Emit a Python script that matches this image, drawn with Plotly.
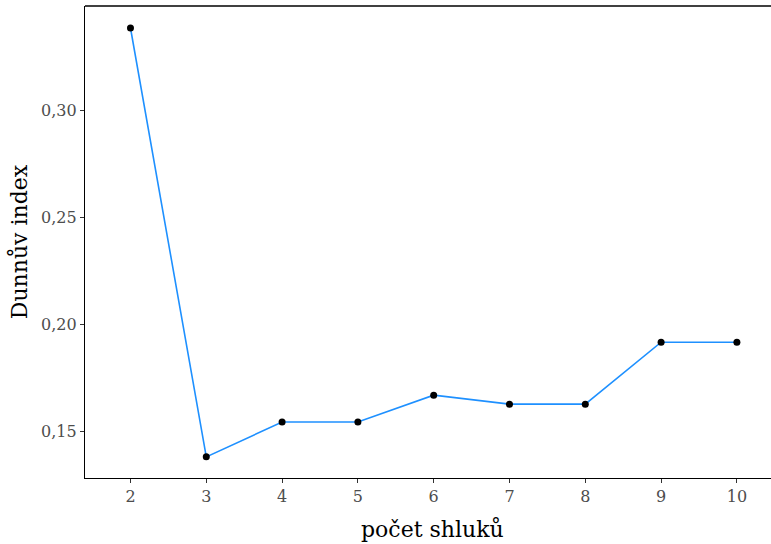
import plotly.graph_objects as go

# Dunn index for each number of clusters
pocet_shluku = [2, 3, 4, 5, 6, 7, 8, 9, 10]
dunn_index = [0.3388, 0.1379, 0.1542, 0.1542, 0.1668, 0.1626, 0.1626, 0.1916, 0.1916]

y_ticks = [0.15, 0.20, 0.25, 0.30]

fig = go.Figure()
fig.add_trace(go.Scatter(
    x=pocet_shluku, y=dunn_index, mode="lines",
    line=dict(color="#1E90FF", width=1.6), showlegend=False,
))
fig.add_trace(go.Scatter(
    x=pocet_shluku, y=dunn_index, mode="markers",
    marker=dict(color="black", size=7), showlegend=False,
))

font_family = "DejaVu Serif"
fig.update_layout(
    width=771, height=544,
    margin=dict(l=85, r=0, t=6, b=66),
    plot_bgcolor="white", paper_bgcolor="white",
    separators=", ",
    font=dict(family=font_family, color="black"),
    xaxis=dict(
        range=[1.4, 10.45], tickvals=pocet_shluku,
        showgrid=False, zeroline=False,
        showline=True, linecolor="black", linewidth=1.3,
        ticks="outside", ticklen=4, tickcolor="#333333", tickwidth=1.1,
        tickfont=dict(size=16, color="#4d4d4d", family=font_family),
    ),
    yaxis=dict(
        range=[0.1280, 0.3491], tickvals=y_ticks, tickformat=".2f",
        showgrid=False, zeroline=False,
        showline=True, linecolor="black", linewidth=1.3,
        ticks="outside", ticklen=4, tickcolor="#333333", tickwidth=1.1,
        tickfont=dict(size=16, color="#4d4d4d", family=font_family),
        title=dict(text="Dunnův index", font=dict(size=22, family=font_family), standoff=7),
    ),
    shapes=[dict(type="line", xref="paper", yref="paper", x0=0, x1=1, y0=1, y1=1,
                 line=dict(color="black", width=1.3))],
    annotations=[dict(
        text="počet shluků", xref="paper", yref="paper", x=0.507, y=0,
        xanchor="center", yanchor="middle", yshift=-51, showarrow=False,
        font=dict(size=22, family=font_family, color="black"),
    )],
)

fig.write_html("out.html")
